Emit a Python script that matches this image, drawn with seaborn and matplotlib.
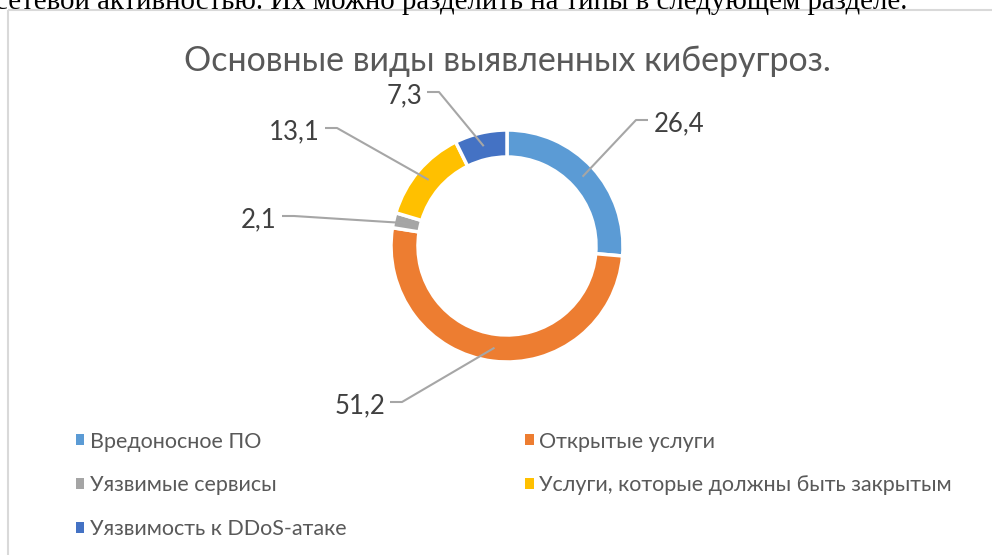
import numpy as np
import matplotlib
matplotlib.use("Agg")
import matplotlib.pyplot as plt
from matplotlib.patches import Patch, Rectangle
import seaborn as sns

# chart data
categories = ["Вредоносное ПО", "Открытые услуги", "Уязвимые сервисы",
              "Услуги, которые должны быть закрытым", "Уязвимость к DDoS-атаке"]
values = [26.4, 51.2, 2.1, 13.1, 7.3]
value_labels = ["26,4", "51,2", "2,1", "13,1", "7,3"]
title = "Основные виды выявленных киберугроз."
page_text = "сетевой активностью. Их можно разделить на типы в следующем разделе."

colors = ["#5B9BD5", "#ED7D31", "#A5A5A5", "#FFC000", "#4472C4"]

sns.set_theme(style="white")
plt.rcParams['font.family'] = ['Lato', 'DejaVu Sans']

fig = plt.figure(figsize=(9.92, 5.55), dpi=100)
ax = fig.add_axes([0, 0, 1, 1])

# chart frame and the document text above it
ax.add_patch(Rectangle((8, 10), 1100, 700, fill=False, edgecolor="#d9d9d9", lw=1.5))
ax.text(-5, 9, page_text, family="Liberation Serif", fontsize=20.8, color="black",
        ha="left", va="baseline")

cx, cy, R, w = 507, 246, 116, 27
wedges, _ = ax.pie(values, colors=sns.color_palette(colors), startangle=-90,
                   counterclock=True, center=(cx, cy), radius=R,
                   wedgeprops=dict(width=w, edgecolor="white", linewidth=2.5),
                   frame=True)
ax.set_xlim(0, 992)
ax.set_ylim(555, 0)
ax.set_aspect("equal")
ax.axis("off")

ax.text(cx, 61, title, ha="center", va="center", fontsize=24.5, color="#595959")

# label layout: end of leader line next to the text, side of text
label_ends = [(648, 120, "r"), (390, 402, "l"), (282, 216, "l"), (325, 128, "l"), (427, 92, "l")]
rm = R - w / 2
for wd, lab, (ex, ey, side) in zip(wedges, value_labels, label_ends):
    mid = np.deg2rad((wd.theta1 + wd.theta2) / 2)
    axp, ayp = cx + rm * np.cos(mid), cy + rm * np.sin(mid)
    elx = ex - 12 if side == "r" else ex + 12
    ax.plot([axp, elx, ex], [ayp, ey, ey], color="#a6a6a6", lw=1.5, solid_capstyle="butt")
    if side == "r":
        ax.text(ex + 6, ey + 4, lab, ha="left", va="center", fontsize=18.5, color="#404040")
    else:
        ax.text(ex - 5, ey + 4, lab, ha="right", va="center", fontsize=18.5, color="#404040")

handles = [Patch(facecolor=c, edgecolor="none") for c in colors]
order = [0, 2, 4, 1, 3]
leg = fig.legend([handles[i] for i in order], [categories[i] for i in order],
                 ncol=2, loc="upper left", bbox_to_anchor=(67 / 992, 1 - 423 / 555),
                 frameon=False, fontsize=15.5, labelcolor="#595959",
                 handlelength=0.4, handleheight=0.4, handletextpad=0.25,
                 labelspacing=1.10, columnspacing=8.3, borderaxespad=0)

fig.savefig("out.png", dpi=100)
